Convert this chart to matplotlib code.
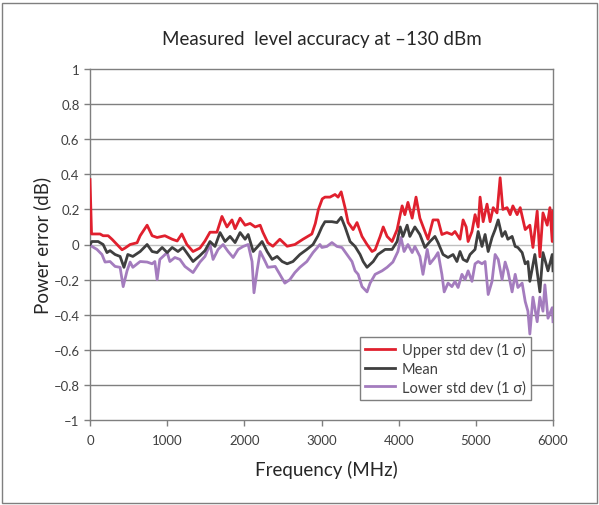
import matplotlib
matplotlib.use("Agg")
import matplotlib.pyplot as plt
from matplotlib.patches import Rectangle
from matplotlib.ticker import FuncFormatter

plt.rcParams['font.family'] = ['Lato', 'DejaVu Sans']

# values (MHz, dB)
upper_f = [0, 20, 130, 170, 235, 285, 350, 415, 455, 520, 610, 650, 740, 805, 870, 970,
           1065, 1130, 1190, 1255, 1335, 1425, 1490, 1555, 1645, 1710, 1775, 1840, 1880,
           1945, 2010, 2075, 2140, 2205, 2240, 2305, 2370, 2460, 2555, 2655, 2760, 2875,
           2920, 2960, 3010, 3045, 3110, 3175, 3215, 3255, 3305, 3345, 3410, 3460, 3525,
           3590, 3655, 3695, 3760, 3800, 3850, 3915, 3980, 4020, 4045, 4080, 4120, 4175,
           4225, 4275, 4340, 4380, 4445, 4510, 4560, 4625, 4690, 4730, 4795, 4835, 4875,
           4900, 4950, 4990, 5030, 5055, 5095, 5145, 5185, 5225, 5275, 5315, 5350, 5405,
           5445, 5480, 5535, 5575, 5640, 5700, 5740, 5795, 5830, 5870, 5925, 5960, 5990, 6000]
upper_db = [0.37, 0.06, 0.06, 0.05, 0.05, 0.03, 0.0, -0.03, -0.02, 0.0, 0.01, 0.05, 0.11,
            0.05, 0.04, 0.05, 0.03, 0.02, 0.06, 0.0, -0.04, -0.02, 0.02, 0.07, 0.07, 0.16,
            0.10, 0.14, 0.09, 0.15, 0.11, 0.12, 0.10, 0.11, 0.07, 0.01, -0.01, 0.03, -0.01,
            0.0, 0.03, 0.06, 0.12, 0.20, 0.26, 0.27, 0.27, 0.285, 0.27, 0.30, 0.21, 0.125,
            0.085, 0.125, 0.046, 0.0, -0.04, -0.03, 0.046, 0.10, 0.046, 0.017, 0.085, 0.17,
            0.22, 0.17, 0.24, 0.15, 0.27, 0.15, 0.074, 0.03, 0.14, 0.14, 0.057, 0.068, 0.057,
            0.074, 0.03, 0.14, 0.10, 0.017, 0.074, 0.17, 0.10, 0.27, 0.13, 0.23, 0.13, 0.21,
            0.18, 0.38, 0.20, 0.21, 0.17, 0.22, 0.17, 0.21, 0.085, 0.11, -0.017, 0.19, -0.07,
            0.18, 0.11, 0.21, 0.017, 0.19]

mean_f = [0, 25, 105, 170, 220, 260, 325, 390, 440, 490, 555, 650, 740, 805, 870, 935,
          1000, 1065, 1140, 1205, 1270, 1335, 1425, 1490, 1555, 1620, 1685, 1750, 1815,
          1880, 1945, 2010, 2050, 2115, 2175, 2230, 2295, 2360, 2425, 2490, 2555, 2630,
          2720, 2810, 2890, 2955, 3005, 3045, 3135, 3200, 3255, 3305, 3370, 3435, 3500,
          3540, 3590, 3670, 3730, 3825, 3915, 3980, 4020, 4055, 4110, 4145, 4210, 4275,
          4340, 4405, 4470, 4510, 4575, 4640, 4705, 4755, 4795, 4835, 4885, 4925, 4990,
          5030, 5080, 5120, 5160, 5210, 5250, 5290, 5340, 5380, 5415, 5470, 5510, 5545,
          5600, 5640, 5675, 5700, 5765, 5830, 5870, 5935, 5990, 6000]
mean_db = [0.0, 0.017, 0.017, 0.0, -0.046, -0.035, -0.057, -0.068, -0.13, -0.057, -0.068,
           -0.04, 0.0, -0.04, -0.046, -0.017, -0.046, -0.017, -0.04, -0.017, -0.057, -0.097,
           -0.063, -0.035, 0.017, -0.011, 0.068, 0.017, 0.046, 0.011, 0.068, 0.03, 0.057,
           -0.04, -0.011, 0.017, -0.04, -0.085, -0.068, -0.097, -0.11, -0.097, -0.057,
           -0.028, 0.0, 0.05, 0.10, 0.13, 0.13, 0.125, 0.155, 0.10, 0.017, -0.011, -0.057,
           -0.097, -0.13, -0.097, -0.057, -0.028, -0.028, 0.017, 0.10, 0.046, 0.11, 0.046,
           0.10, 0.057, -0.017, 0.017, 0.046, 0.011, -0.057, -0.074, -0.057, -0.097, -0.04,
           -0.085, -0.097, -0.057, -0.028, 0.074, -0.011, 0.057, -0.04, 0.04, 0.085, 0.14,
           0.046, 0.074, 0.03, 0.046, -0.011, -0.017, -0.046, -0.11, -0.097, -0.21, -0.057,
           -0.27, -0.046, -0.15, -0.057, -0.15]

lower_f = [0, 25, 90, 155, 195, 260, 325, 390, 430, 480, 520, 555, 650, 740, 805, 840, 870,
           905, 1000, 1035, 1100, 1165, 1230, 1335, 1425, 1490, 1555, 1595, 1660, 1725,
           1790, 1855, 1920, 1985, 2050, 2100, 2125, 2165, 2205, 2270, 2305, 2400, 2460,
           2525, 2590, 2655, 2720, 2810, 2890, 2980, 3005, 3070, 3135, 3200, 3265, 3330,
           3395, 3435, 3475, 3525, 3590, 3630, 3695, 3785, 3850, 3925, 3990, 4030, 4070,
           4120, 4175, 4210, 4275, 4315, 4370, 4405, 4470, 4510, 4560, 4590, 4640, 4690,
           4730, 4770, 4820, 4860, 4900, 4950, 4990, 5030, 5080, 5120, 5160, 5210, 5250,
           5290, 5340, 5380, 5415, 5470, 5510, 5545, 5600, 5640, 5675, 5700, 5740, 5795,
           5830, 5870, 5895, 5935, 5990, 6000]
lower_db = [0.0, -0.011, -0.028, -0.057, -0.10, -0.097, -0.125, -0.13, -0.24, -0.15, -0.10,
            -0.13, -0.097, -0.10, -0.11, -0.097, -0.20, -0.085, -0.046, -0.097, -0.074,
            -0.085, -0.125, -0.16, -0.10, -0.068, 0.0, -0.085, -0.028, 0.0, -0.04, -0.074,
            -0.028, -0.011, 0.0, -0.097, -0.275, -0.15, -0.04, -0.097, -0.13, -0.125, -0.17,
            -0.22, -0.20, -0.16, -0.13, -0.097, -0.046, 0.0, -0.017, -0.011, 0.011, -0.011,
            -0.017, -0.057, -0.097, -0.15, -0.17, -0.24, -0.27, -0.22, -0.17, -0.15, -0.13,
            -0.10, -0.04, 0.04, -0.04, 0.0, -0.046, -0.011, -0.068, -0.17, -0.028, -0.11,
            -0.074, -0.046, -0.17, -0.27, -0.22, -0.24, -0.21, -0.245, -0.17, -0.20, -0.15,
            -0.21, -0.11, -0.097, -0.11, -0.097, -0.285, -0.21, -0.057, -0.085, -0.20, -0.10,
            -0.15, -0.27, -0.17, -0.245, -0.22, -0.325, -0.38, -0.51, -0.30, -0.44, -0.30,
            -0.38, -0.23, -0.42, -0.36, -0.44]

labels = ['Upper std dev (1 σ)', 'Mean', 'Lower std dev (1 σ)']
colors = ['#E0202E', '#3F3F3F', '#A47CBE']

fig = plt.figure(figsize=(5.99, 5.06), dpi=100)
ax = fig.add_axes([90/599, 1-421/506, 463/599, 351/506])

# figure frame
fig.patches.append(Rectangle((2/599, 2/506), 595/599, 500/506, transform=fig.transFigure,
                             fill=False, edgecolor='#7F7F7F', linewidth=1.0))

ax.plot(lower_f, lower_db, color=colors[2], lw=2.0, label=labels[2], zorder=3)
ax.plot(mean_f, mean_db, color=colors[1], lw=2.0, label=labels[1], zorder=4)
ax.plot(upper_f, upper_db, color=colors[0], lw=2.0, label=labels[0], zorder=5)

ax.set_xlim(0, 6000)
ax.set_ylim(-1, 1)
ax.set_xticks([0, 1000, 2000, 3000, 4000, 5000, 6000])
yt = [-1, -0.8, -0.6, -0.4, -0.2, 0, 0.2, 0.4, 0.6, 0.8, 1]
ax.set_yticks(yt)
ax.yaxis.set_major_formatter(FuncFormatter(lambda v, p: ('%g' % v).replace('-', '–')))

for v in yt:
    if abs(v) < 1e-9:
        ax.axhline(v, color='#BFBFBF', lw=1.0, zorder=1)
    elif abs(v) < 0.99:
        ax.axhline(v, color='#7F7F7F', lw=1.0, zorder=1)

for s in ax.spines.values():
    s.set_color('#7F7F7F')
    s.set_linewidth(1.0)
ax.tick_params(colors='#7F7F7F', labelcolor='#404040', labelsize=9.5, length=4, width=1)
ax.tick_params(axis='x', pad=6)

fig.text(322/599, 1-40/506, 'Measured  level accuracy at –130 dBm', ha='center', va='center',
         fontsize=13.5, color='#262626')
fig.text(326/599, 1-470/506, 'Frequency (MHz)', ha='center', va='center', fontsize=13.5,
         color='#262626')
fig.text(42/599, 1-245/506, 'Power error (dB)', ha='center', va='center', rotation=90,
         fontsize=13.5, color='#262626')

handles, labs = ax.get_legend_handles_labels()
order = [2, 1, 0]
leg = ax.legend([handles[i] for i in order], [labs[i] for i in order], loc='lower right',
                bbox_to_anchor=(0.952, 0.058), fancybox=False, framealpha=1,
                edgecolor='#7F7F7F', fontsize=10.5, handlelength=2.0, borderpad=0.35,
                labelspacing=0.3, handletextpad=0.5, borderaxespad=0)
leg.get_frame().set_linewidth(1.0)
for t in leg.get_texts():
    t.set_color('#404040')
leg.set_zorder(10)

fig.savefig('out.png', dpi=100)
